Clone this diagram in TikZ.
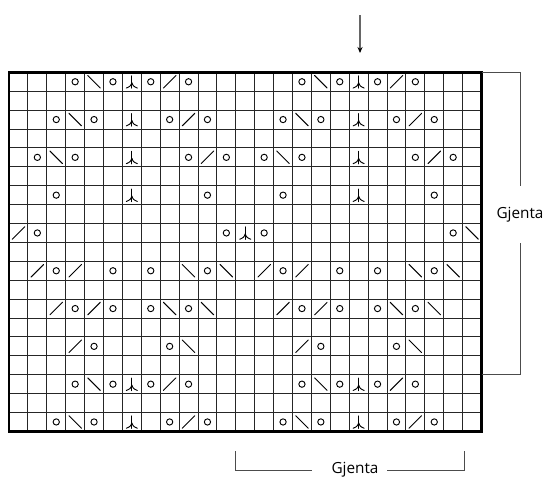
\documentclass[tikz,border=0pt]{standalone}
\usepackage{fontspec}
\setmainfont{Open Sans}
\usetikzlibrary{arrows.meta}
\begin{document}
\begin{tikzpicture}[x=0.75pt,y=-0.75pt,
  gridline/.style={line width=0.7pt, black!85},
  frameline/.style={line width=1.9pt, black},
  symline/.style={line width=0.7pt, black, line cap=round},
  bracketline/.style={line width=0.75pt, black!70},
  gjtext/.style={font=\fontsize{11.5}{14}\selectfont, inner sep=0pt, anchor=base},
  yo/.pic={\draw[symline] (0,0) circle[radius=2.35pt];},
  ktog/.pic={\draw[symline] (-6.3,6.3) -- (6.3,-6.3);},
  sskdec/.pic={\draw[symline] (-6.3,-6.3) -- (6.3,6.3);},
  cddec/.pic={\draw[symline] (0,-6) -- (0,6.5);
              \draw[symline] (0,1) .. controls (-1.5,4.5) .. (-5.5,6.3);
              \draw[symline] (0,1) .. controls (1.5,4.5) .. (5.5,6.3);}
]
\useasboundingbox (0,0) rectangle (552,476);
\def\L{9}
\def\T{72.3}
\def\C{18.9}
\pgfmathsetmacro{\R}{\L+25*\C}
\pgfmathsetmacro{\B}{\T+19*\C}
% grid
\foreach \i in {1,...,24} \draw[gridline] ({\L+\C*\i},\T) -- ({\L+\C*\i},\B);
\foreach \j in {1,...,18} \draw[gridline] (\L,{\T+\C*\j}) -- (\R,{\T+\C*\j});
\draw[frameline] (\L,\T) rectangle (\R,\B);
% yarn overs
\foreach \r/\cs in {1/{4,6,8,10,16,18,20,22}, 3/{3,5,9,11,15,17,21,23},
   5/{2,4,10,12,14,16,22,24}, 7/{3,11,15,23}, 9/{2,12,14,24},
   11/{3,6,8,11,15,18,20,23}, 13/{4,6,8,10,16,18,20,22}, 15/{5,9,17,21},
   17/{4,6,8,10,16,18,20,22}, 19/{3,5,9,11,15,17,21,23}}
  {\foreach \c in \cs {\pic at ({\L+\C*(\c-0.5)},{\T+\C*(\r-0.5)}) {yo};}}
% k2tog /
\foreach \r/\cs in {1/{9,21}, 3/{10,22}, 5/{11,23}, 9/{1}, 11/{2,4,14,16},
   13/{3,5,15,17}, 15/{4,16}, 17/{9,21}, 19/{10,22}}
  {\foreach \c in \cs {\pic at ({\L+\C*(\c-0.5)},{\T+\C*(\r-0.5)}) {ktog};}}
% ssk \
\foreach \r/\cs in {1/{5,17}, 3/{4,16}, 5/{3,15}, 9/{25}, 11/{10,12,22,24},
   13/{9,11,21,23}, 15/{10,22}, 17/{5,17}, 19/{4,16}}
  {\foreach \c in \cs {\pic at ({\L+\C*(\c-0.5)},{\T+\C*(\r-0.5)}) {sskdec};}}
% centred double decrease
\foreach \r/\cs in {1/{7,19}, 3/{7,19}, 5/{7,19}, 7/{7,19}, 9/{13}, 17/{7,19}, 19/{7,19}}
  {\foreach \c in \cs {\pic at ({\L+\C*(\c-0.5)},{\T+\C*(\r-0.5)}) {cddec};}}
% arrow
\coordinate (arrS) at (360,15);
\coordinate (arrE) at (360,53);
\draw[line width=0.8pt, black!60, -{Stealth[length=4.5pt,width=3.8pt,color=black]}] (arrS) -- (arrE);
% right bracket
\node[gjtext] (gjR) at (520,218.5) {Gjenta};
\coordinate (rb1) at (\R,\T);
\coordinate (rb2) at (520,\T);
\coordinate (rb3) at (520,186);
\coordinate (rb4) at (520,243);
\coordinate (rb5) at (520,{\T+16*\C});
\coordinate (rb6) at (\R,{\T+16*\C});
\draw[bracketline] (rb1) -- (rb2) -- (rb3);
\draw[bracketline] (rb4) -- (rb5) -- (rb6);
% bottom bracket
\node[gjtext] (gjB) at (355,473) {Gjenta};
\coordinate (bb1) at ({\L+12*\C},451);
\coordinate (bb2) at ({\L+12*\C},470.5);
\coordinate (bb3) at (312,470.5);
\coordinate (bb4) at (387,470.5);
\coordinate (bb5) at (464,470.5);
\coordinate (bb6) at (464,451);
\draw[bracketline] (bb1) -- (bb2) -- (bb3);
\draw[bracketline] (bb4) -- (bb5) -- (bb6);
\end{tikzpicture}
\end{document}
